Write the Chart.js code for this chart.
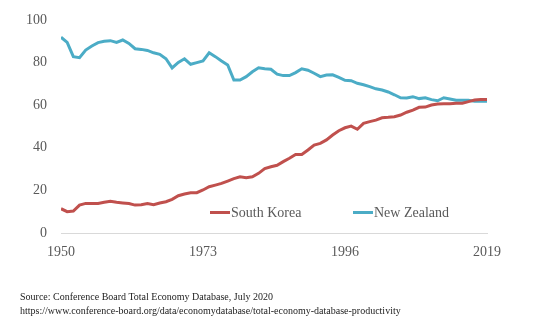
<!DOCTYPE html>
<html>
<head>
<meta charset="utf-8">
<script src="https://cdn.jsdelivr.net/npm/chart.js@4.4.1/dist/chart.umd.min.js"></script>
<style>
  body { margin: 0; background: #fff; }
  #wrap { position: relative; width: 534px; height: 322px; }
  #myChart { position: absolute; left: 0; top: 0; }
  .legend { position: absolute; top: 205px; font: 14px "Liberation Serif", "Times New Roman", serif; color: #595959; white-space: nowrap; }
  .legend span { display: inline-block; width: 20px; height: 3px; vertical-align: middle; margin-right: 1px; position: relative; top: -1px; }
  .source { position: absolute; left: 20px; top: 290px; font: 10px "Liberation Serif", "Times New Roman", serif; color: #222; line-height: 14px; white-space: nowrap; }
</style>
</head>
<body>
<div id="wrap">
  <canvas id="myChart" width="534" height="322"></canvas>
  <div class="legend" style="left:210px"><span style="background:#c0504d"></span>South Korea</div>
  <div class="legend" style="left:353px"><span style="background:#4bacc6"></span>New Zealand</div>
  <div class="source">Source: Conference Board Total Economy Database, July 2020<br>https://www.conference-board.org/data/economydatabase/total-economy-database-productivity</div>
</div>
<script>
let years = [];
for (let y = 1950; y <= 2019; y++) years.push(y);

let xTicks = [1950, 1973, 1996, 2019];
let yTicks = [0, 20, 40, 60, 80, 100];

let southKorea = [
  11.4, 10.0, 10.3, 13.1, 13.9, 13.9, 13.9, 14.4, 14.9, 14.4,
  14.1, 13.8, 13.1, 13.3, 13.8, 13.3, 14.1, 14.7, 15.8, 17.5,
  18.3, 18.9, 18.9, 20.2, 21.7, 22.5, 23.3, 24.4, 25.5, 26.4,
  26.0, 26.4, 28.0, 30.2, 31.1, 31.8, 33.5, 35.1, 36.9, 36.9,
  39.0, 41.3, 42.1, 43.7, 46.0, 48.0, 49.4, 50.2, 48.7, 51.5,
  52.3, 53.0, 54.1, 54.3, 54.6, 55.4, 56.7, 57.7, 59.0, 59.1,
  60.1, 60.6, 60.7, 60.7, 60.9, 60.9, 61.7, 62.4, 62.7, 62.7
];

let newZealand = [
  91.9, 89.5, 82.8, 82.3, 85.9, 87.8, 89.4, 90.0, 90.3, 89.5,
  90.6, 89.0, 86.5, 86.2, 85.7, 84.6, 83.9, 81.8, 77.5, 80.1,
  81.8, 79.2, 80.0, 80.8, 84.6, 82.8, 80.8, 78.9, 71.8, 71.8,
  73.4, 75.7, 77.6, 77.1, 76.9, 74.6, 73.9, 73.9, 75.3, 77.1,
  76.4, 75.0, 73.4, 74.2, 74.3, 73.1, 71.7, 71.5, 70.3, 69.6,
  68.7, 67.7, 67.1, 66.2, 64.9, 63.5, 63.4, 64.0, 63.1, 63.5,
  62.6, 62.1, 63.5, 62.9, 62.3, 62.3, 62.3, 61.8, 61.8, 61.8
];

const ctx = document.getElementById("myChart");
const labelFont = { family: "'Liberation Serif', 'Times New Roman', serif", size: 14 };

new Chart(ctx, {
  type: "line",
  data: {
    datasets: [
      {
        label: "South Korea",
        data: years.map((y, i) => ({ x: y, y: southKorea[i] })),
        borderColor: "#c0504d",
        borderWidth: 3,
        pointRadius: 0,
        tension: 0,
      },
      {
        label: "New Zealand",
        data: years.map((y, i) => ({ x: y, y: newZealand[i] })),
        borderColor: "#4bacc6",
        borderWidth: 3,
        pointRadius: 0,
        tension: 0,
      },
    ],
  },
  options: {
    responsive: false,
    animation: false,
    layout: { padding: { top: 20, right: 47, bottom: 59, left: 0 } },
    plugins: { legend: { display: false }, tooltip: { enabled: false } },
    scales: {
      x: {
        type: "linear",
        min: 1950,
        max: 2019,
        afterBuildTicks: (scale) => { scale.ticks = xTicks.map((v) => ({ value: v })); },
        afterFit: (scale) => { scale.height = 30; },
        grid: { display: false },
        border: { display: true, color: "#d9d9d9", width: 1 },
        ticks: { color: "#595959", font: labelFont, padding: 3, maxRotation: 0, callback: (v) => String(v) },
      },
      y: {
        min: 0,
        max: 100,
        afterBuildTicks: (scale) => { scale.ticks = yTicks.map((v) => ({ value: v })); },
        afterFit: (scale) => { scale.width = 61; },
        grid: { display: false },
        border: { display: false },
        ticks: { color: "#595959", font: labelFont, padding: 6 },
      },
    },
  },
});
</script>
</body>
</html>
